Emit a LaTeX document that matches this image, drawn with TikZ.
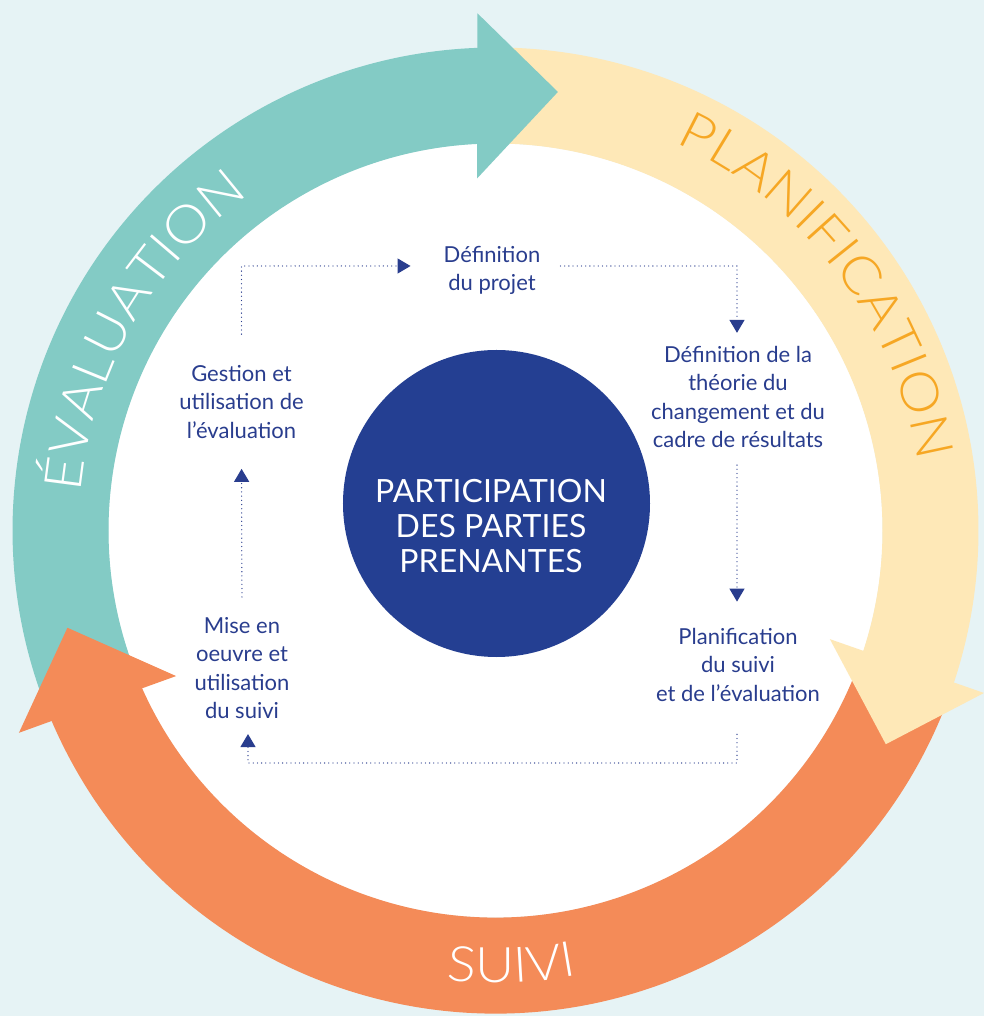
\documentclass[tikz,border=0pt]{standalone}
\usepackage{fontspec}
\setmainfont{Lato}
\newfontfamily\ringfont{Lato Light}[FakeStretch=1.1]
\usetikzlibrary{arrows.meta, decorations.text, positioning}

\definecolor{bgblue}{HTML}{E6F3F5}
\definecolor{evalteal}{HTML}{83CBC5}
\definecolor{planyellow}{HTML}{FEE8B7}
\definecolor{suiviorange}{HTML}{F48B58}
\definecolor{planlabel}{HTML}{F6A724}
\definecolor{navy}{HTML}{243F92}
\definecolor{inkblue}{HTML}{293D8E}

\begin{document}
\begin{tikzpicture}[x=1pt, y=1pt,
        stage/.style={align=center, inner sep=0pt, text=inkblue,
            font=\fontsize{22}{28.5}\selectfont},
        flow/.style={inkblue, line width=1.3pt, line cap=round,
            dash pattern=on 0pt off 4.2pt, -{Triangle[length=13pt, width=15pt]}},
        ring/.style={decorate, decoration={text along path, text align=center}}]

        % background and the white middle
        \fill[bgblue] (-495.5,-485.5) rectangle (488.5,530.5);
        \useasboundingbox (-495.5,-485.5) rectangle (488.5,530.5);
        \fill[white] (0,0) circle[radius=387];

        % the three bands, each starts under the head of the one before
        \fill[evalteal] (202.5:387) arc[start angle=202.5, end angle=91.5, radius=387]
            -- (91.5:483) arc[start angle=91.5, end angle=202.5, radius=483] -- cycle;
        \fill[planyellow] (91.5:387) arc[start angle=91.5, end angle=-19.2, radius=387]
            -- (-19.2:483) arc[start angle=-19.2, end angle=91.5, radius=483] -- cycle;
        \fill[suiviorange] (-19.2:387) arc[start angle=-19.2, end angle=-157, radius=387]
            -- (-157:483) arc[start angle=-157, end angle=-19.2, radius=483] -- cycle;

        % heads
        \fill[evalteal]    (93:352.5)  -- (81.9:443)  -- (92:517.5)   -- cycle;
        \fill[planyellow]  (-18:351.6) -- (-28.7:445) -- (-18.4:514.8) -- cycle;
        \fill[suiviorange] (204.5:351) -- (192.8:439) -- (203:517.7)  -- cycle;

        % band labels
        \path[ring, decoration={text={|\ringfont\fontsize{52}{60}\selectfont\color{white}|ÉVALUATION}}]
            (180.5:416.4) arc[start angle=180.5, end angle=120.5, radius=416.4];
        \path[ring, decoration={text={|\ringfont\fontsize{52}{60}\selectfont\color{planlabel}|PLANIFICATION}}]
            (74.65:428) arc[start angle=74.65, end angle=-0.35, radius=428];
        \path[ring, decoration={text={|\ringfont\fontsize{49}{60}\selectfont\color{white}|SUIVI}}]
            (-112.85:452.5) arc[start angle=-112.85, end angle=-62.85, radius=452.5];

        % centre
        \node[circle, fill=navy, minimum size=307pt, inner sep=0pt] (5) at (1,27) {};
        \node[align=center, text=white, font=\fontsize{32}{35}\selectfont]
            at ([xshift=-5.5, yshift=-23]5.center) {PARTICIPATION\\DES PARTIES\\PRENANTES};

        \node[stage] (0) at (-3.5,260)     {Définition\\du projet};
        \node[stage] (1) at (242.5,133.5)  {Définition de la\\théorie du\\changement et du\\cadre de résultats};
        \node[stage] (2) at (242.5,-134)   {Planification\\du suivi\\et de l’évaluation};
        \node[stage] (3) at (-253.5,-137.5) {Mise en\\oeuvre et\\utilisation\\du suivi};
        \node[stage] (4) at (-254,128.5)   {Gestion et\\utilisation de\\l’évaluation};

        \coordinate (toprail)    at (0,264.5);
        \coordinate (bottomrail) at (0,-232.5);

        \draw[flow, shorten <=31pt, shorten >=33pt] (4.north) -- (4.north |- toprail) -- (0.west |- toprail);
        \draw[flow, shorten <=20pt, shorten >=13pt] (0.east |- toprail) -| ([xshift=-1]1.north);
        \draw[flow, shorten <=17pt, shorten >=26pt] ([xshift=-1]1.south) -- ([xshift=-1]2.north);
        \draw[flow, shorten <=33pt, shorten >=15pt] ([xshift=-1]2.south) -- ([xshift=-1]2.south |- bottomrail)
            -| ([xshift=6]3.south);
        \draw[flow, shorten <=20pt, shorten >=30pt] (3.north) -- (4.south);

    \end{tikzpicture}
\end{document}
